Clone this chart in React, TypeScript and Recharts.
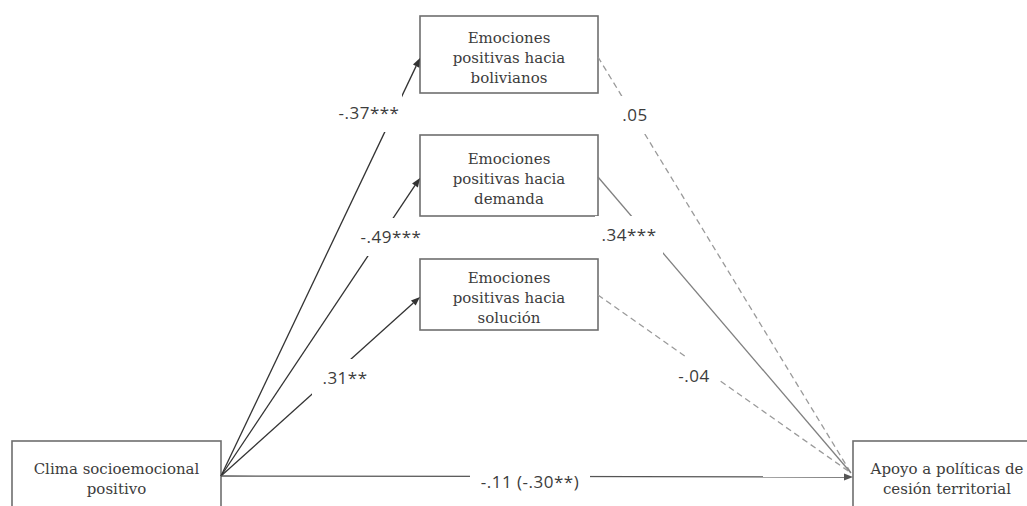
import { ComposedChart, XAxis, YAxis, ReferenceArea, ReferenceLine, ReferenceDot } from 'recharts';

// model content
const predictorName = ['Clima socioemocional', 'positivo'];
const outcomeName = ['Apoyo a políticas de', 'cesión territorial'];
const mediatorNames = [
  ['Emociones', 'positivas hacia', 'bolivianos'],
  ['Emociones', 'positivas hacia', 'demanda'],
  ['Emociones', 'positivas hacia', 'solución'],
];
const aPaths = ['-.37***', '-.49***', '.31**'];
const bPaths = ['.05', '.34***', '-.04'];
const bSignificant = [false, true, false];
const directPath = '-.11 (-.30**)';

// layout (axis units == page pixels, y grows down)
const W = 1027;
const H = 506;
const mediatorBoxes = [
  { x1: 420, x2: 598, y1: 16, y2: 93 },
  { x1: 420, x2: 598, y1: 135, y2: 216 },
  { x1: 420, x2: 598, y1: 259, y2: 330 },
];
const predictorBox = { x1: 12, x2: 221, y1: 441, y2: 510 };
const outcomeBox = { x1: 853, x2: 1041, y1: 441, y2: 510 };
const origin = { x: 221, y: 476 };
const aEnds = [58, 178, 297];
const bStarts = [57, 177, 295];
const bEnd = { x: 851, y: 473 };
const aLabelPos = [{ x: 369, y: 113 }, { x: 391, y: 237 }, { x: 345, y: 378 }];
const bLabelPos = [{ x: 635, y: 115 }, { x: 629, y: 235 }, { x: 694, y: 376 }];
const directLabelPos = { x: 530, y: 482 };

const serif = '"DejaVu Serif", serif';
const sans = '"Open Sans", sans-serif';
const textColor = '#3c3c3c';

function PathLine(props: any) {
  const { x1, y1, x2, y2, color, width, dash, head } = props;
  if ([x1, y1, x2, y2].some((v) => typeof v !== 'number')) return null;
  const ang = Math.atan2(y2 - y1, x2 - x1);
  const len = 9;
  const hw = 3.5;
  const bx = x2 - len * Math.cos(ang);
  const by = y2 - len * Math.sin(ang);
  const ex = head ? bx : x2;
  const ey = head ? by : y2;
  return (
    <g>
      <line x1={x1} y1={y1} x2={ex} y2={ey} stroke={color} strokeWidth={width} strokeDasharray={dash} />
      {head && (
        <polygon
          points={`${x2},${y2} ${bx + hw * Math.sin(ang)},${by - hw * Math.cos(ang)} ${bx - hw * Math.sin(ang)},${by + hw * Math.cos(ang)}`}
          fill={color}
        />
      )}
    </g>
  );
}

function NodeBox(props: any, lines: string[]) {
  const { x, y, width, height } = props;
  if ([x, y, width, height].some((v) => typeof v !== 'number')) return null;
  const cx = x + width / 2;
  const cy = y + height / 2;
  return (
    <g>
      <rect x={x} y={y} width={width} height={height} fill="#fff" stroke="#6e6e6e" strokeWidth={1.6} />
      {lines.map((t, i) => (
        <text
          key={i}
          x={cx}
          y={cy + (i - (lines.length - 1) / 2) * 20 + 8}
          textAnchor="middle"
          fontFamily={serif}
          fontSize={15}
          fill={textColor}
        >
          {t}
        </text>
      ))}
    </g>
  );
}

function PathLabel(props: any, text: string, w: number) {
  const { cx, cy } = props;
  if (typeof cx !== 'number' || typeof cy !== 'number') return null;
  return (
    <g>
      <rect x={cx - w / 2} y={cy - 19} width={w} height={38} fill="#fff" />
      <text
        x={cx}
        y={cy + 6}
        textAnchor="middle"
        fontFamily={sans}
        fontSize={17}
        letterSpacing={0.5}
        fill={textColor}
      >
        {text}
      </text>
    </g>
  );
}

export default function App() {
  return (
    <div style={{ position: 'absolute', left: 0, top: 0, width: W, height: H, background: '#fff', overflow: 'hidden' }}>
      <ComposedChart width={W} height={H} margin={{ top: 0, right: 0, bottom: 0, left: 0 }} data={[]}>
        <XAxis type="number" dataKey="x" domain={[0, W]} hide allowDataOverflow />
        <YAxis type="number" dataKey="y" domain={[0, H]} reversed hide allowDataOverflow />

        {aEnds.map((ey, i) => (
          <ReferenceLine
            key={`a${i}`}
            segment={[origin, { x: mediatorBoxes[i].x1, y: ey }]}
            ifOverflow="visible"
            shape={(p: any) => <PathLine {...p} color="#333" width={1.3} head />}
          />
        ))}
        {bStarts.map((sy, i) => (
          <ReferenceLine
            key={`b${i}`}
            segment={[{ x: mediatorBoxes[i].x2, y: sy }, bEnd]}
            ifOverflow="visible"
            shape={(p: any) => (
              <PathLine
                {...p}
                color={bSignificant[i] ? '#808080' : '#9a9a9a'}
                width={1.3}
                dash={bSignificant[i] ? undefined : '6 4'}
              />
            )}
          />
        ))}
        <ReferenceLine
          segment={[origin, { x: outcomeBox.x1, y: origin.y + 1 }]}
          ifOverflow="visible"
          shape={(p: any) => <PathLine {...p} color="#555" width={1.3} head />}
        />

        {mediatorBoxes.map((b, i) => (
          <ReferenceArea
            key={`m${i}`}
            {...b}
            ifOverflow="visible"
            shape={(p: any) => NodeBox(p, mediatorNames[i])}
          />
        ))}
        <ReferenceArea {...predictorBox} ifOverflow="visible" shape={(p: any) => NodeBox(p, predictorName)} />
        <ReferenceArea {...outcomeBox} ifOverflow="visible" shape={(p: any) => NodeBox(p, outcomeName)} />

        {aPaths.map((t, i) => (
          <ReferenceDot
            key={`al${i}`}
            x={aLabelPos[i].x}
            y={aLabelPos[i].y}
            r={1}
            ifOverflow="visible"
            shape={(p: any) => PathLabel(p, t, 66)}
          />
        ))}
        {bPaths.map((t, i) => (
          <ReferenceDot
            key={`bl${i}`}
            x={bLabelPos[i].x}
            y={bLabelPos[i].y}
            r={1}
            ifOverflow="visible"
            shape={(p: any) => PathLabel(p, t, t.length * 9 + 14)}
          />
        ))}
        <ReferenceDot
          x={directLabelPos.x}
          y={directLabelPos.y}
          r={1}
          ifOverflow="visible"
          shape={(p: any) => PathLabel(p, directPath, 120)}
        />
      </ComposedChart>
    </div>
  );
}
